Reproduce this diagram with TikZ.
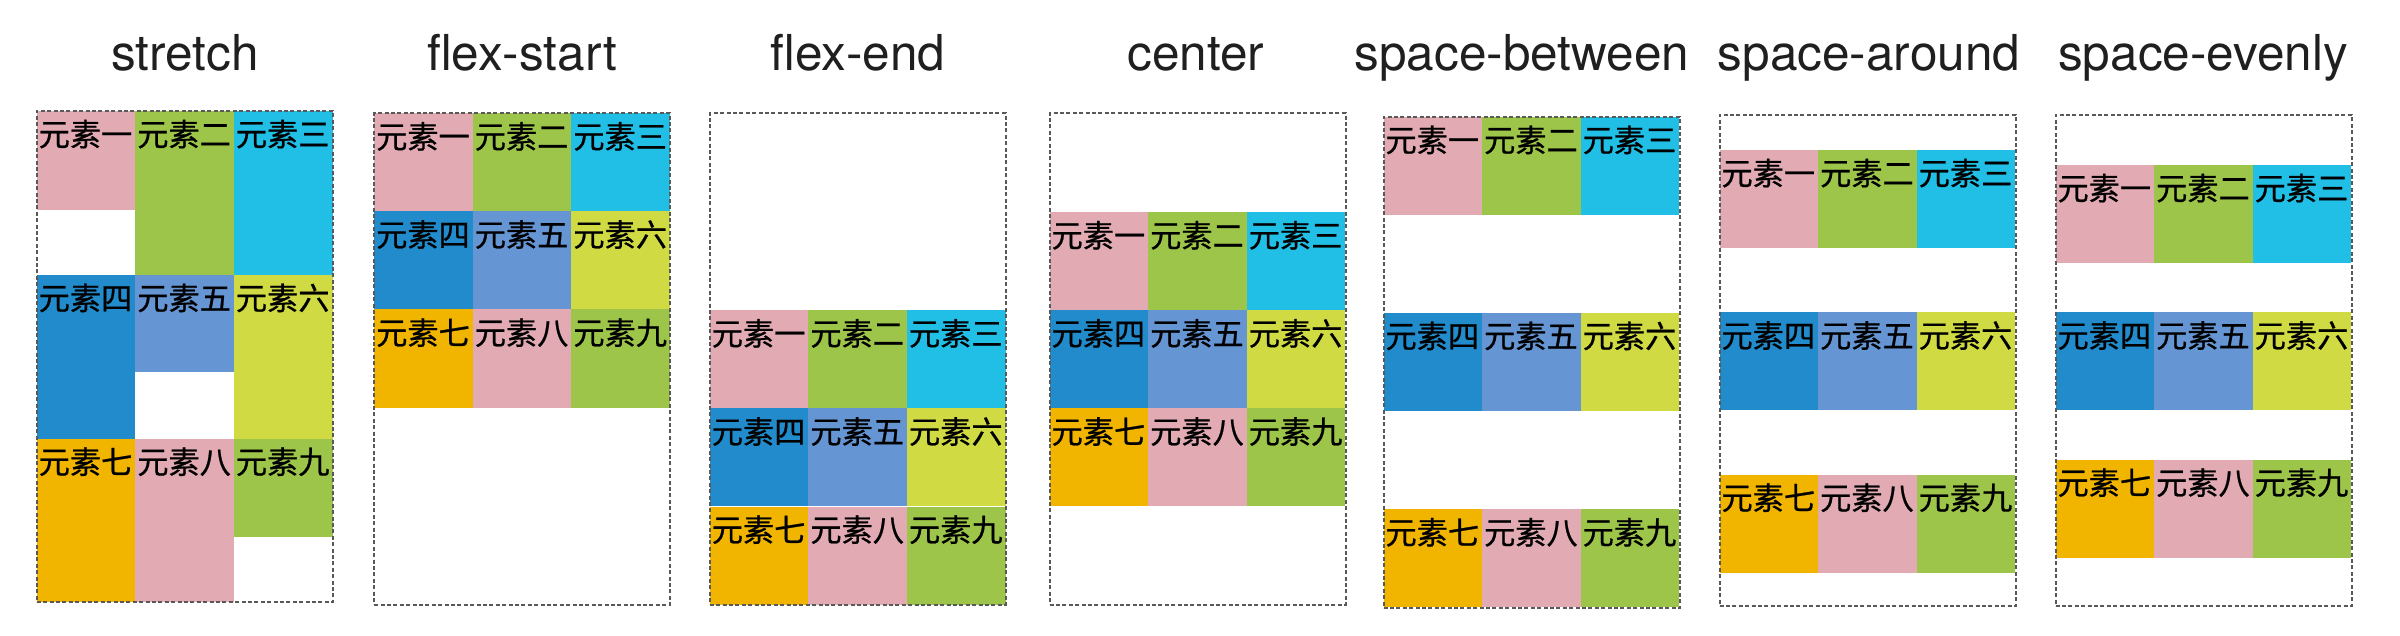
\documentclass[tikz,border=0pt]{standalone}
\usepackage{fontspec}
\setmainfont{TeX Gyre Heros}
\newfontfamily\cjkfont[FakeBold=0.7]{Noto Sans CJK SC}
\usetikzlibrary{calc}
\definecolor{cpink}{HTML}{E2ABB3}
\definecolor{cgreen}{HTML}{9DC54A}
\definecolor{ccyan}{HTML}{21BEE6}
\definecolor{cdblue}{HTML}{228BCB}
\definecolor{cblue}{HTML}{6595D2}
\definecolor{cygreen}{HTML}{D0DA42}
\definecolor{corange}{HTML}{F1B500}
\def\cw{98.6}
\tikzset{
  cellfill/.style={fill=#1, draw=none, inner sep=0pt, outer sep=0pt},
  celltext/.style={font=\cjkfont\fontsize{15.6pt}{15.6pt}\selectfont, inner sep=0pt, outer sep=0pt, text=black},
  paneltitle/.style={font=\fontsize{24.75pt}{26pt}\selectfont, inner sep=0pt, text=black!88, anchor=base},
  panelbox/.style={draw=black!65, line width=1pt, dash pattern=on 2pt off 1.2pt, inner sep=0pt, outer sep=0pt, anchor=north west, minimum width=148pt, minimum height=245.6pt}
}
% #1 name, #2 x, #3 y, #4 height (px), #5 colour, #6 text
\newcommand\cellbox[6]{%
  \node[cellfill=#5, minimum width=\cw*0.5pt, minimum height=#4*0.5pt, anchor=north west] (#1) at ({#2},{#3}) {};
  \node[celltext, anchor=base west] (#1t) at ($(#1.north west)+(2,35)$) {#6};
}
% #1 panel, #2 left, #3 top, #4 row number
\newcommand\flexrow[4]{%
  \ifcase#4\or
    \cellbox{#1a}{#2}{#3}{98}{cpink}{元素一}%
    \cellbox{#1b}{#2+\cw}{#3}{98}{cgreen}{元素二}%
    \cellbox{#1c}{#2+2*\cw}{#3}{98}{ccyan}{元素三}%
  \or
    \cellbox{#1d}{#2}{#3}{98}{cdblue}{元素四}%
    \cellbox{#1e}{#2+\cw}{#3}{98}{cblue}{元素五}%
    \cellbox{#1f}{#2+2*\cw}{#3}{98}{cygreen}{元素六}%
  \or
    \cellbox{#1g}{#2}{#3}{98}{corange}{元素七}%
    \cellbox{#1h}{#2+\cw}{#3}{98}{cpink}{元素八}%
    \cellbox{#1i}{#2+2*\cw}{#3}{98}{cgreen}{元素九}%
  \fi
}
\begin{document}
\begin{tikzpicture}[x=0.5pt, y=-0.5pt]
\fill[white] (0,0) rectangle (2400,636);
\useasboundingbox (0,0) rectangle (2400,636);

% titles
\node[paneltitle] (t1) at (185,70.7) {stretch};
\node[paneltitle] (t2) at (522,70.7) {flex-start};
\node[paneltitle] (t3) at (858,70.7) {flex-end};
\node[paneltitle] (t4) at (1196,70.7) {center};
\node[paneltitle] (t5) at (1522,70.7) {space-between};
\node[paneltitle] (t6) at (1869,70.7) {space-around};
\node[paneltitle] (t7) at (2203,70.7) {space-evenly};

% panel 1: stretch
\cellbox{p1a}{36.7}{111}{98.6}{cpink}{元素一}
\cellbox{p1b}{36.7+\cw}{111}{163.8}{cgreen}{元素二}
\cellbox{p1c}{36.7+2*\cw}{111}{163.8}{ccyan}{元素三}
\cellbox{p1d}{36.7}{274.8}{163.8}{cdblue}{元素四}
\cellbox{p1e}{36.7+\cw}{274.8}{97.6}{cblue}{元素五}
\cellbox{p1f}{36.7+2*\cw}{274.8}{163.8}{cygreen}{元素六}
\cellbox{p1g}{36.7}{438.6}{163.8}{corange}{元素七}
\cellbox{p1h}{36.7+\cw}{438.6}{163.8}{cpink}{元素八}
\cellbox{p1i}{36.7+2*\cw}{438.6}{98}{cgreen}{元素九}
\node[panelbox] (box1) at (36.7,111) {};

% panel 2: flex-start
\flexrow{p2}{374.2}{113.3}{1}
\flexrow{p2}{374.2}{211.4}{2}
\flexrow{p2}{374.2}{309.5}{3}
\node[panelbox] (box2) at (374.2,113.3) {};

% panel 3: flex-end
\flexrow{p3}{709.8}{310.3}{1}
\flexrow{p3}{709.8}{408.4}{2}
\flexrow{p3}{709.8}{506.5}{3}
\node[panelbox] (box3) at (709.8,113.3) {};

% panel 4: center
\flexrow{p4}{1049.6}{212.2}{1}
\flexrow{p4}{1049.6}{310.3}{2}
\flexrow{p4}{1049.6}{408.4}{3}
\node[panelbox] (box4) at (1049.6,113.3) {};

% panel 5: space-between
\flexrow{p5}{1383.5}{116.8}{1}
\flexrow{p5}{1383.5}{312.8}{2}
\flexrow{p5}{1383.5}{509.2}{3}
\node[panelbox] (box5) at (1383.5,116.8) {};

% panel 6: space-around
\flexrow{p6}{1719.5}{150}{1}
\flexrow{p6}{1719.5}{312.4}{2}
\flexrow{p6}{1719.5}{474.6}{3}
\node[panelbox] (box6) at (1719.5,115) {};

% panel 7: space-evenly
\flexrow{p7}{2055.5}{165}{1}
\flexrow{p7}{2055.5}{312.4}{2}
\flexrow{p7}{2055.5}{459.5}{3}
\node[panelbox] (box7) at (2055.5,115) {};
\end{tikzpicture}
\end{document}
